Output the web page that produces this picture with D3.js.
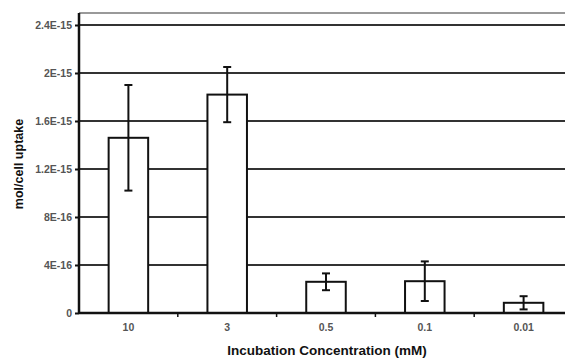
<!DOCTYPE html>
<html>
  <body style="margin:0;background:white">
    <div id="chart"></div>
    <script src="https://d3js.org/d3.v7.min.js"></script>
    <script>
    // data
    var categories = ["10", "3", "0.5", "0.1", "0.01"];
    var uptake = [1.46e-15, 1.82e-15, 0.26e-15, 0.265e-15, 0.085e-15];
    var errors = [0.44e-15, 0.23e-15, 0.07e-15, 0.165e-15, 0.055e-15];
    var yTicks = [0, 4e-16, 8e-16, 1.2e-15, 1.6e-15, 2e-15, 2.4e-15];
    var yTickLabels = ["0", "4E-16", "8E-16", "1.2E-15", "1.6E-15", "2E-15", "2.4E-15"];

    var width = 565, height = 358;
    var mLeft = 79, mTop = 13, mBottom = 313, mRight = 573;

    var svg = d3.select("#chart").append("svg")
        .attr("width", width)
        .attr("height", height)
        .style("font-family", "Liberation Sans, Arial, sans-serif");

    var x = d3.scaleBand()
        .domain(categories)
        .range([mLeft, mRight])
        .paddingInner(0.6)
        .paddingOuter(0.3);

    var xb = d3.scaleBand().domain(categories).range([mLeft, mRight]);

    var y = d3.scaleLinear()
        .domain([0, 2.5e-15])
        .range([mBottom, mTop]);

    // top border
    svg.append("line")
      .attr("x1", mLeft).attr("x2", width)
      .attr("y1", y(2.5e-15)).attr("y2", y(2.5e-15))
      .style("stroke", "#777").style("stroke-width", 1.5);

    // grid lines
    svg.append("g").selectAll("line")
      .data(yTicks.slice(1))
      .enter().append("line")
      .attr("x1", mLeft).attr("x2", width)
      .attr("y1", function(d) { return y(d); })
      .attr("y2", function(d) { return y(d); })
      .style("stroke", "#333")
      .style("stroke-width", 2);

    // bars
    svg.append("g").selectAll("rect")
      .data(uptake)
      .enter().append("rect")
      .attr("x", function(d, i) { return x(categories[i]); })
      .attr("y", function(d) { return y(d); })
      .attr("width", x.bandwidth())
      .attr("height", function(d) { return y(0) - y(d); })
      .style("fill", "white")
      .style("stroke", "#111")
      .style("stroke-width", 2);

    // error bars
    var eg = svg.append("g").style("stroke", "#111").style("stroke-width", 2);
    uptake.forEach(function(v, i) {
      var cx = x(categories[i]) + x.bandwidth() / 2;
      eg.append("line").attr("x1", cx).attr("x2", cx)
        .attr("y1", y(v + errors[i])).attr("y2", y(v - errors[i]));
      [v + errors[i], v - errors[i]].forEach(function(e) {
        eg.append("line").attr("x1", cx - 4).attr("x2", cx + 4)
          .attr("y1", y(e)).attr("y2", y(e));
      });
    });

    // y axis
    var yAxis = svg.append("g")
      .attr("transform", "translate(" + mLeft + ",0)")
      .call(d3.axisLeft(y).tickValues(yTicks).tickSize(4).tickPadding(3)
        .tickFormat(function(d, i) { return yTickLabels[i]; }));
    yAxis.select(".domain").attr("d", "M0," + mTop + "V" + mBottom)
      .style("stroke", "#111").style("stroke-width", 2.5);
    yAxis.selectAll(".tick line").style("stroke", "#111").style("stroke-width", 2);
    yAxis.selectAll("text")
      .style("font-size", "10.5px").style("font-weight", "bold").style("fill", "#555")
      .style("font-family", "Liberation Sans, Arial, sans-serif");

    // x axis
    svg.append("line")
      .attr("x1", mLeft).attr("x2", width)
      .attr("y1", mBottom).attr("y2", mBottom)
      .style("stroke", "#111").style("stroke-width", 2.5);

    svg.append("g").selectAll("line")
      .data(categories.slice(1))
      .enter().append("line")
      .attr("x1", function(d) { return xb(d); })
      .attr("x2", function(d) { return xb(d); })
      .attr("y1", mBottom).attr("y2", mBottom + 4)
      .style("stroke", "#111").style("stroke-width", 1.5);

    svg.append("g").selectAll("text")
      .data(categories)
      .enter().append("text")
      .attr("x", function(d) { return xb(d) + xb.bandwidth() / 2; })
      .attr("y", 331)
      .attr("text-anchor", "middle")
      .style("font-size", "10.5px").style("font-weight", "bold").style("fill", "#555")
      .text(function(d) { return d; });

    // axis titles
    svg.append("text")
      .attr("x", 327)
      .attr("y", 355)
      .attr("text-anchor", "middle")
      .style("font-size", "13.5px").style("font-weight", "bold").style("fill", "#111")
      .text("Incubation Concentration (mM)");

    svg.append("text")
      .attr("transform", "translate(23,164) rotate(-90)")
      .attr("text-anchor", "middle")
      .style("font-size", "12.5px").style("font-weight", "bold").style("fill", "#111")
      .text("mol/cell uptake");
    </script>
  </body>
</html>
